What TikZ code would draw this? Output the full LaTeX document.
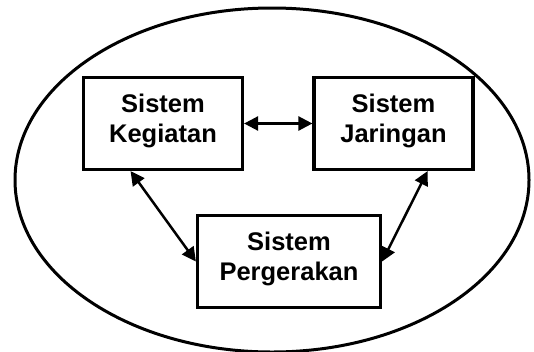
\documentclass[tikz,border=0pt]{standalone}
\usepackage{fontspec}
\setmainfont{Liberation Sans}
\usetikzlibrary{arrows.meta,calc}
\tikzset{
  sysbox/.style={draw=black, line width=3.2pt, fill=white, inner sep=0pt,
    minimum height=92pt},
  systext/.style={inner sep=0pt, align=center, yshift=3pt,
    font=\fontsize{25.5}{30}\selectfont\bfseries},
  link/.style={line width=2.5pt, {Triangle[length=14pt,width=14pt]}-{Triangle[length=14pt,width=14pt]}}
}
\begin{document}
\begin{tikzpicture}[x=1pt,y=-1pt]
\useasboundingbox (0,0) rectangle (534,351);
\draw[line width=3pt] (272,180) ellipse [x radius=257pt, y radius=172pt];
\node[sysbox, minimum width=159pt] (keg) at (163,123.5) {};
\node[sysbox, minimum width=159pt] (jar) at (393.5,123.5) {};
\node[sysbox, minimum width=183pt] (per) at (289,261.5) {};
\node[systext] (kegt) at (keg.center) {Sistem\\Kegiatan};
\node[systext] (jart) at (jar.center) {Sistem\\Jaringan};
\node[systext] (pert) at (per.center) {Sistem\\Pergerakan};
\draw[link] (keg.east) -- (jar.west);
\draw[link] ($(keg.south west)!0.3!(keg.south east)$) -- (per.west);
\draw[link] ($(jar.south west)!0.71!(jar.south east)$) -- (per.east);
\end{tikzpicture}
\end{document}
